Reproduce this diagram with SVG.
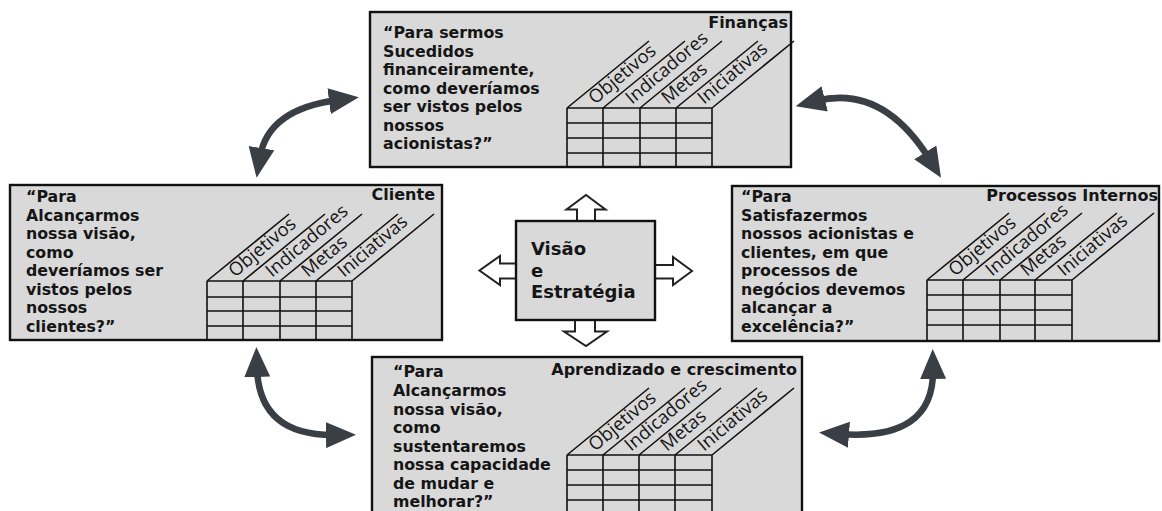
<svg xmlns="http://www.w3.org/2000/svg" width="1162" height="511" viewBox="0 0 1162 511">
<style>
.box{fill:#d9d9d9;stroke:#111;stroke-width:2.4}
.q{font-family:"DejaVu Sans",sans-serif;font-weight:bold;font-size:15.8px;fill:#151515}
.t{font-family:"DejaVu Sans",sans-serif;font-weight:bold;font-size:16px;fill:#151515;text-anchor:end}
.c{font-family:"DejaVu Sans",sans-serif;font-weight:bold;font-size:18px;fill:#151515}
.lbl{font-family:"Open Sans",sans-serif;font-size:18.5px;fill:#151515}
.g{stroke:#111;stroke-width:1.6;fill:none}
.blk{fill:#fff;stroke:#222;stroke-width:2}
.cur{fill:none;stroke:#3a3f45;stroke-width:6.5}
</style>
<defs>
<marker id="ah" viewBox="0 0 10 10" refX="3" refY="5" markerWidth="30" markerHeight="26" markerUnits="userSpaceOnUse" orient="auto-start-reverse" preserveAspectRatio="none">
<path d="M0,0 L10,5 L0,10 z" fill="#3a3f45"/>
</marker>
</defs>

<g id="connectors">
<path class="cur" d="M260,157 Q268,109 338,100" marker-start="url(#ah)" marker-end="url(#ah)"/>
<path class="cur" d="M816,101 Q883,84 930,160" marker-start="url(#ah)" marker-end="url(#ah)"/>
<path class="cur" d="M257,368 Q259,436 335,435" marker-start="url(#ah)" marker-end="url(#ah)"/>
<path class="cur" d="M933,370 Q934,441 840,434" marker-start="url(#ah)" marker-end="url(#ah)"/>
</g>

<g id="financas">
<rect class="box" x="370" y="12" width="421" height="155"/>
<text class="t" x="788" y="28">Finanças</text>
<text class="q" x="383" y="38">“Para sermos</text>
<text class="q" x="383" y="56.5">Sucedidos</text>
<text class="q" x="383" y="75">financeiramente,</text>
<text class="q" x="383" y="93.5">como deveríamos</text>
<text class="q" x="383" y="112">ser vistos pelos</text>
<text class="q" x="383" y="130.5">nossos</text>
<text class="q" x="383" y="149">acionistas?”</text>
<g transform="translate(567,108)">
<path class="g" d="M0,0H145M0,15H145M0,30H145M0,45H145M0,0V59M36,0V59M73,0V59M109,0V59M145,0V59M0,0l82,-67M36,0l82,-67M73,0l82,-67M109,0l82,-67M145,0l82,-67"/>
<text class="lbl" transform="translate(28,-3) rotate(-40)">Objetivos</text>
<text class="lbl" transform="translate(65,-3) rotate(-40)">Indicadores</text>
<text class="lbl" transform="translate(101,-3) rotate(-40)">Metas</text>
<text class="lbl" transform="translate(137,-3) rotate(-40)">Iniciativas</text>
</g>
</g>

<g id="cliente">
<rect class="box" x="10" y="185" width="432" height="155"/>
<text class="t" x="435" y="200">Cliente</text>
<text class="q" x="26" y="202">“Para</text>
<text class="q" x="26" y="220.5">Alcançarmos</text>
<text class="q" x="26" y="239">nossa visão,</text>
<text class="q" x="26" y="257.5">como</text>
<text class="q" x="26" y="276">deveríamos ser</text>
<text class="q" x="26" y="294.5">vistos pelos</text>
<text class="q" x="26" y="313">nossos</text>
<text class="q" x="26" y="331.5">clientes?”</text>
<g transform="translate(207,281)">
<path class="g" d="M0,0H145M0,16H145M0,30H145M0,45H145M0,0V59M36,0V59M73,0V59M109,0V59M145,0V59M0,0l82,-67M36,0l82,-67M73,0l82,-67M109,0l82,-67M145,0l82,-67"/>
<text class="lbl" transform="translate(28,-3) rotate(-40)">Objetivos</text>
<text class="lbl" transform="translate(65,-3) rotate(-40)">Indicadores</text>
<text class="lbl" transform="translate(101,-3) rotate(-40)">Metas</text>
<text class="lbl" transform="translate(137,-3) rotate(-40)">Iniciativas</text>
</g>
</g>

<g id="processos">
<rect class="box" x="732" y="186" width="427" height="155"/>
<text class="t" x="1158" y="201">Processos Internos</text>
<text class="q" x="741" y="202">“Para</text>
<text class="q" x="741" y="220.5">Satisfazermos</text>
<text class="q" x="741" y="239">nossos acionistas e</text>
<text class="q" x="741" y="257.5">clientes, em que</text>
<text class="q" x="741" y="276">processos de</text>
<text class="q" x="741" y="294.5">negócios devemos</text>
<text class="q" x="741" y="313">alcançar a</text>
<text class="q" x="741" y="331.5">excelência?”</text>
<g transform="translate(927,280)">
<path class="g" d="M0,0H145M0,15H145M0,30H145M0,45H145M0,0V61M36,0V61M73,0V61M108,0V61M145,0V61M0,0l82,-67M36,0l82,-67M73,0l82,-67M108,0l82,-67M145,0l82,-67"/>
<text class="lbl" transform="translate(28,-3) rotate(-40)">Objetivos</text>
<text class="lbl" transform="translate(65,-3) rotate(-40)">Indicadores</text>
<text class="lbl" transform="translate(100,-3) rotate(-40)">Metas</text>
<text class="lbl" transform="translate(137,-3) rotate(-40)">Iniciativas</text>
</g>
</g>

<g id="aprendizado">
<rect class="box" x="372" y="357" width="430" height="170"/>
<text class="t" x="797" y="375">Aprendizado e crescimento</text>
<text class="q" x="393" y="377">“Para</text>
<text class="q" x="393" y="396">Alcançarmos</text>
<text class="q" x="393" y="414.5">nossa visão,</text>
<text class="q" x="393" y="433">como</text>
<text class="q" x="393" y="451.5">sustentaremos</text>
<text class="q" x="393" y="470">nossa capacidade</text>
<text class="q" x="393" y="488.5">de mudar  e</text>
<text class="q" x="393" y="507">melhorar?”</text>
<g transform="translate(567,455)">
<path class="g" d="M0,0H145M0,15H145M0,30H145M0,45H145M0,0V60M36,0V60M72,0V60M108,0V60M145,0V60M0,0l82,-67M36,0l82,-67M72,0l82,-67M108,0l82,-67M145,0l82,-67"/>
<text class="lbl" transform="translate(28,-3) rotate(-40)">Objetivos</text>
<text class="lbl" transform="translate(64,-3) rotate(-40)">Indicadores</text>
<text class="lbl" transform="translate(100,-3) rotate(-40)">Metas</text>
<text class="lbl" transform="translate(137,-3) rotate(-40)">Iniciativas</text>
</g>
</g>

<g id="visao">
<polygon class="blk" points="577,222 577,209.5 566.5,209.5 586,195 605.5,209.5 595,209.5 595,222"/>
<polygon class="blk" points="575,319 575,331.5 564,331.5 586,346 607,331.5 595,331.5 595,319"/>
<polygon class="blk" points="517,263.5 500,263.5 500,256 479.5,270.5 500,285 500,278.5 517,278.5"/>
<polygon class="blk" points="654,265 673,265 673,257 692,271 673,285 673,278.5 654,278.5"/>
<rect class="box" x="516" y="221" width="139" height="99"/>
<text class="c" x="531" y="255">Visão</text>
<text class="c" x="531" y="277">e</text>
<text class="c" x="531" y="298">Estratégia</text>
</g>
</svg>
